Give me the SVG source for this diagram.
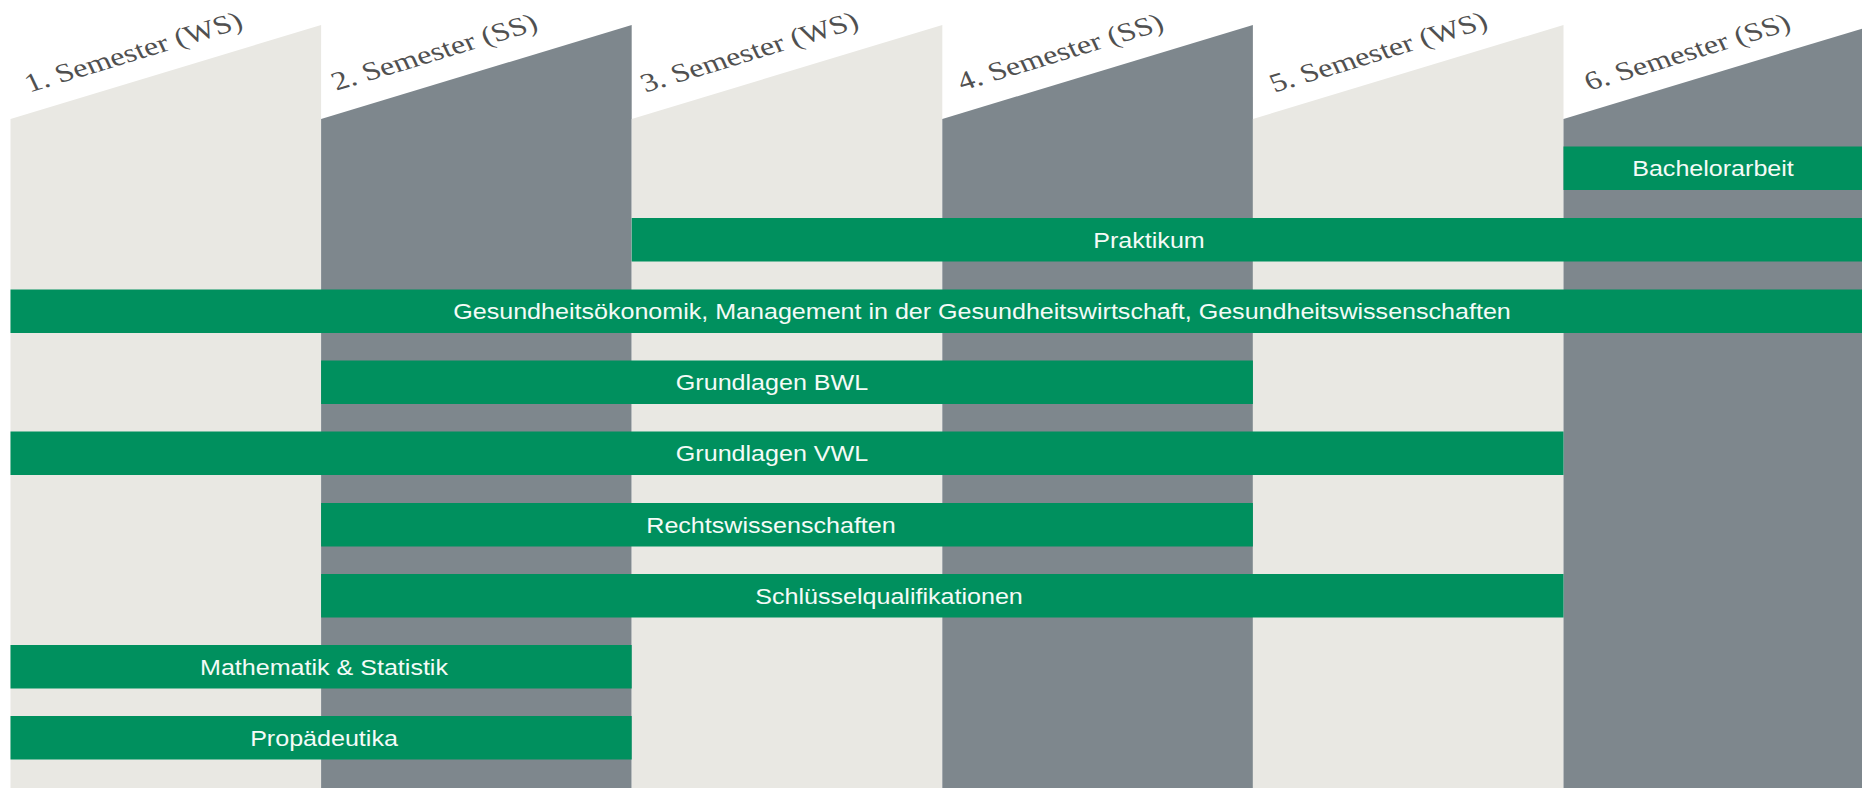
<svg xmlns="http://www.w3.org/2000/svg" width="1862" height="788" viewBox="0 0 1862 788">
  <style>
    .light { fill: #E9E8E3; }
    .dark { fill: #7E878D; }
    .bar { fill: #00905E; }
    .bt { font-family: "Liberation Sans", Arial, sans-serif; font-size: 22px; fill: #F4FBF7; text-anchor: middle; }
    .sem { font-family: "Liberation Serif", "Times New Roman", serif; font-size: 26px; fill: #505050; text-anchor: middle; }
  </style>
  <rect width="1862" height="788" fill="#FFFFFF"/>
  <g id="semesters">
    <g id="sem1">
      <polygon class="light" points="10.5,119 321.1,25 321.1,788 10.5,788"/>
      <text class="sem" transform="translate(137,60) scale(1.25,1) rotate(-20.72)">1. Semester (WS)</text>
    </g>
    <g id="sem2">
      <polygon class="dark" points="321.1,119 631.7,25 631.7,788 321.1,788"/>
      <text class="sem" transform="translate(438,60) scale(1.25,1) rotate(-20.72)">2. Semester (SS)</text>
    </g>
    <g id="sem3">
      <polygon class="light" points="631.7,119 942.3,25 942.3,788 631.7,788"/>
      <text class="sem" transform="translate(753,60) scale(1.25,1) rotate(-20.72)">3. Semester (WS)</text>
    </g>
    <g id="sem4">
      <polygon class="dark" points="942.3,119 1252.9,25 1252.9,788 942.3,788"/>
      <text class="sem" transform="translate(1064,60) scale(1.25,1) rotate(-20.72)">4. Semester (SS)</text>
    </g>
    <g id="sem5">
      <polygon class="light" points="1252.9,119 1563.5,25 1563.5,788 1252.9,788"/>
      <text class="sem" transform="translate(1382,60) scale(1.25,1) rotate(-20.72)">5. Semester (WS)</text>
    </g>
    <g id="sem6">
      <polygon class="dark" points="1563.5,119 1874.1,25 1874.1,788 1563.5,788"/>
      <text class="sem" transform="translate(1691,60) scale(1.25,1) rotate(-20.72)">6. Semester (SS)</text>
    </g>
  </g>
  <g id="modules">
    <g id="bachelorarbeit">
      <rect class="bar" x="1563.5" y="146.5" width="298.5" height="43.5"/>
      <text class="bt" transform="translate(1713,176) scale(1.14,1)">Bachelorarbeit</text>
    </g>
    <g id="praktikum">
      <rect class="bar" x="631.7" y="218" width="1230.3" height="43.5"/>
      <text class="bt" transform="translate(1149,247.5) scale(1.14,1)">Praktikum</text>
    </g>
    <g id="gesundheit">
      <rect class="bar" x="10.5" y="289.5" width="1851.5" height="43.5"/>
      <text class="bt" transform="translate(982,319) scale(1.14,1)">Gesundheitsökonomik, Management in der Gesundheitswirtschaft, Gesundheitswissenschaften</text>
    </g>
    <g id="bwl">
      <rect class="bar" x="321.1" y="360.5" width="931.8" height="43.5"/>
      <text class="bt" transform="translate(772,390) scale(1.14,1)">Grundlagen BWL</text>
    </g>
    <g id="vwl">
      <rect class="bar" x="10.5" y="431.5" width="1553" height="43.5"/>
      <text class="bt" transform="translate(772,461) scale(1.14,1)">Grundlagen VWL</text>
    </g>
    <g id="recht">
      <rect class="bar" x="321.1" y="503" width="931.8" height="43.5"/>
      <text class="bt" transform="translate(771,532.5) scale(1.14,1)">Rechtswissenschaften</text>
    </g>
    <g id="schluessel">
      <rect class="bar" x="321.1" y="574" width="1242.4" height="43.5"/>
      <text class="bt" transform="translate(889,603.5) scale(1.14,1)">Schlüsselqualifikationen</text>
    </g>
    <g id="mathe">
      <rect class="bar" x="10.5" y="645" width="621.2" height="43.5"/>
      <text class="bt" transform="translate(324,674.5) scale(1.14,1)">Mathematik &amp; Statistik</text>
    </g>
    <g id="propaedeutika">
      <rect class="bar" x="10.5" y="716" width="621.2" height="43.5"/>
      <text class="bt" transform="translate(324,745.5) scale(1.14,1)">Propädeutika</text>
    </g>
  </g>
  <g id="connectors"/>
</svg>
